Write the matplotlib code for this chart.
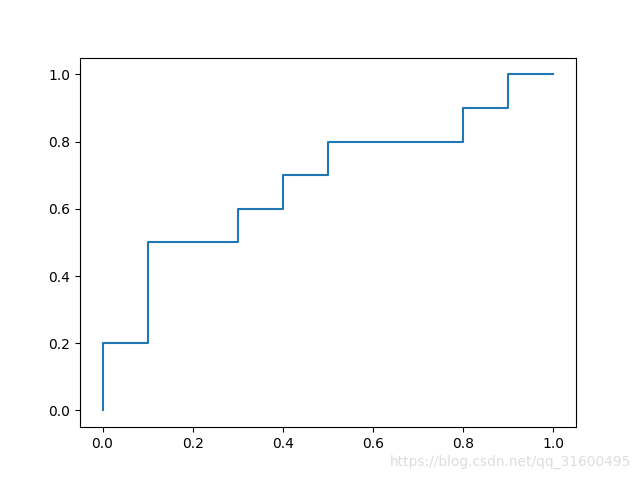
import matplotlib
matplotlib.use("Agg")
import matplotlib.pyplot as plt

fpr = [0.0, 0.0, 0.1, 0.1, 0.3, 0.3, 0.4, 0.4, 0.5, 0.5, 0.8, 0.8, 0.9, 0.9, 1.0]
tpr = [0.0, 0.2, 0.2, 0.5, 0.5, 0.6, 0.6, 0.7, 0.7, 0.8, 0.8, 0.9, 0.9, 1.0, 1.0]

fig, ax = plt.subplots(figsize=(6.4, 4.8), dpi=100)
ax.plot(fpr, tpr)
fig.text(0.986, 0.037, "https://blog.csdn.net/qq_31600495", ha="right", va="center",
         color="#dddddd", fontsize=9.9)
fig.savefig("out.png")
